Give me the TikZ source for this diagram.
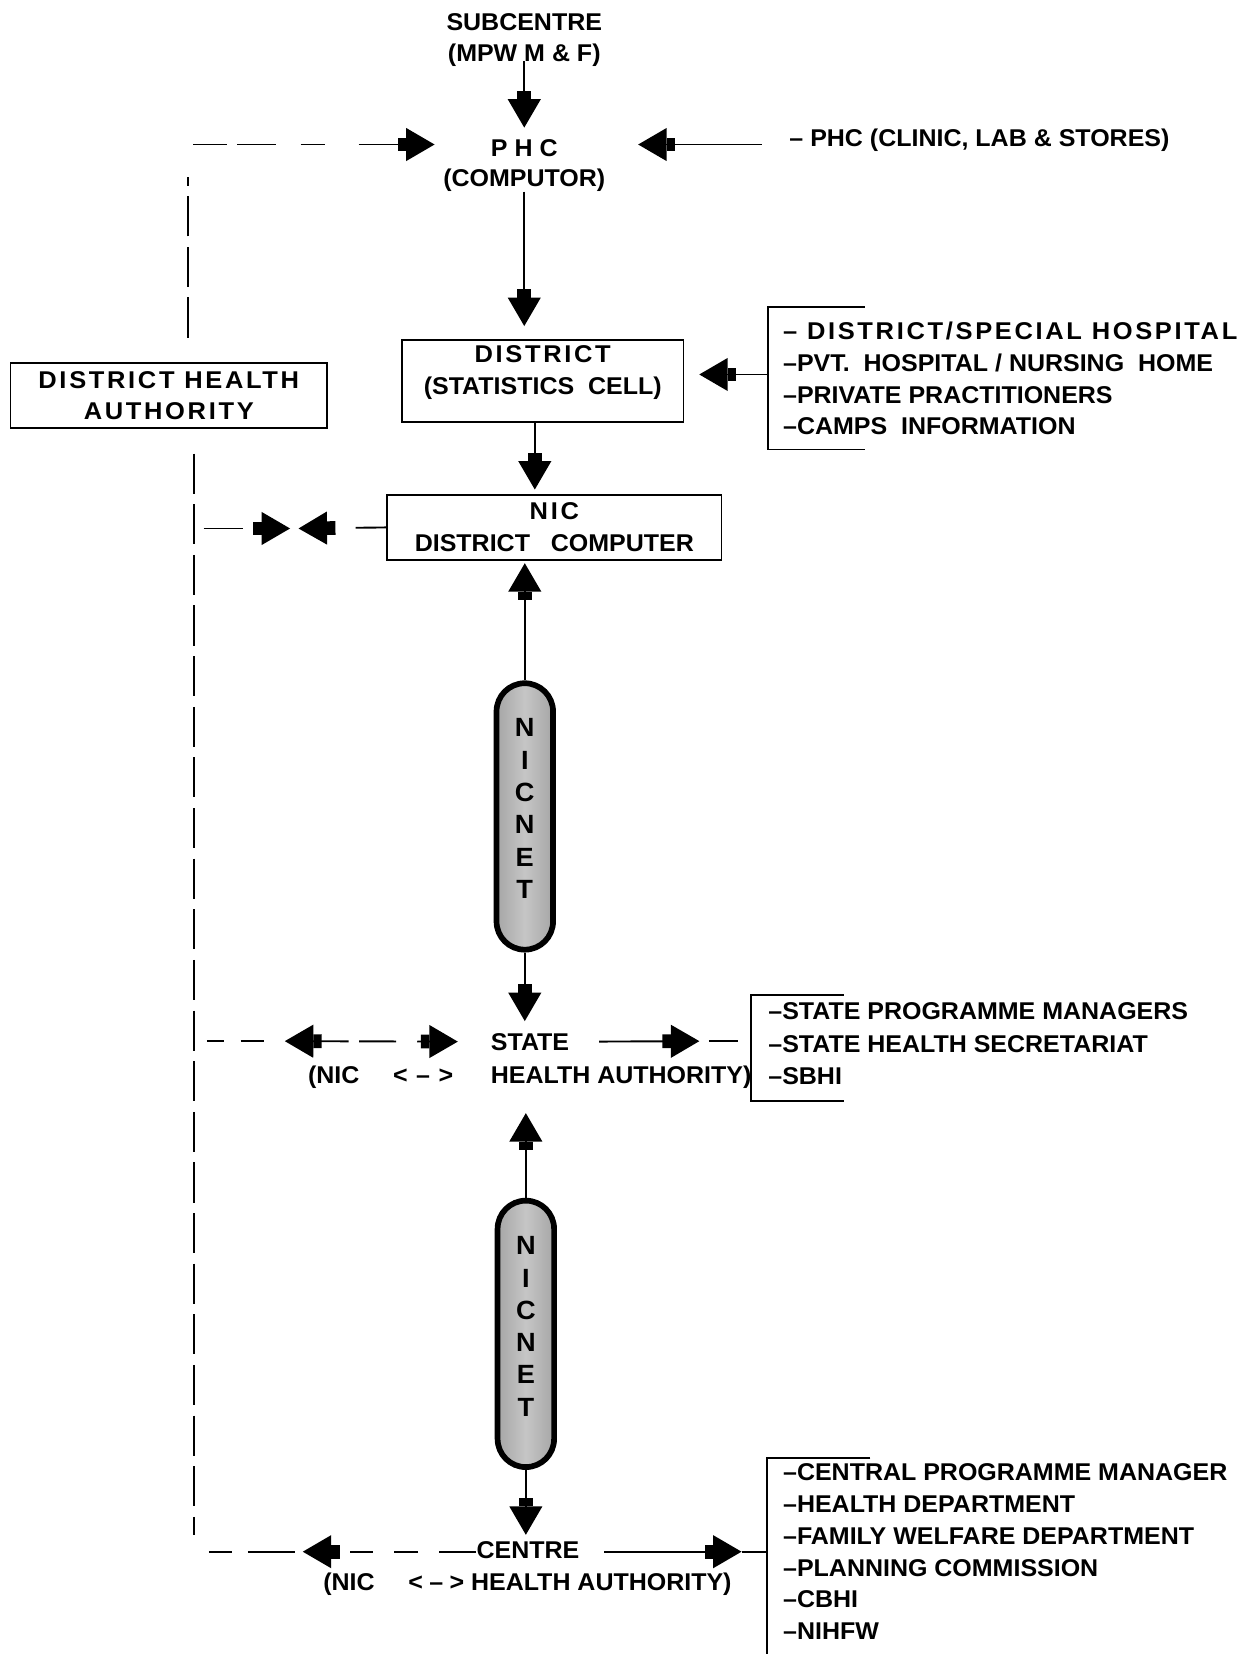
\documentclass[tikz,border=0pt]{standalone}
\usepackage{fontspec}
\setmainfont{Liberation Sans}[FakeStretch=1.03]
\newfontfamily\widefont{Liberation Sans}[LetterSpace=11,FakeStretch=1.05]
\usetikzlibrary{arrows.meta,positioning}

\newcommand\dfont{\fontsize{11.5}{15}\selectfont\bfseries}

\tikzset{
  Big/.tip={Rectangle[length=4pt,width=6.5pt,sep=0pt]Triangle[length=13.5pt,width=15.5pt,sep=0pt]},
  every node/.style={font=\dfont, inner sep=0pt},
  box/.style={draw, line width=0.9pt, align=center},
  flow/.style={line width=0.9pt, -{Big}},
  thin/.style={line width=0.9pt},
  dhaline/.style={line width=0.8pt, dash pattern=on 19pt off 5pt},
  bracket/.style={line width=0.8pt},
  pill/.style={draw, line width=2.7pt, rounded corners=13.4pt,
    minimum width=26.8pt, minimum height=126.3pt,
    left color=gray!70, right color=gray!70, middle color=gray!45},
  pilltxt/.style={align=center, font=\fontsize{12.5}{15.3}\selectfont\bfseries},
  list/.style={align=left, anchor=north west},
}

\begin{document}
\begin{tikzpicture}[x=0.5pt,y=-0.5pt]
  \useasboundingbox (0,0) rectangle (1186,1568);

  % upper part
  \node[anchor=north, align=center] (sub) at (497,12) {SUBCENTRE\\(MPW M \& F)};
  \node[anchor=north, align=center, font=\fontsize{11.5}{14}\selectfont\bfseries] (phc) at (497,132) {P H C\\(COMPUTOR)};
  \node[anchor=west] (phcsrc) at (748,133) {-- PHC (CLINIC, LAB \& STORES)};

  \node[box, minimum width=133.5pt, minimum height=39pt] (dist) at (514.5,361) {};
  \node[align=center, below=3pt of dist.north] (distlbl) {{\widefont DISTRICT}\\(STATISTICS\ \ CELL)};
  \node[box, minimum width=150pt, minimum height=31pt, font=\widefont\dfont] (dha) at (160,375) {DISTRICT HEALTH\\AUTHORITY};
  \node[list, font=\fontsize{11.5}{15}\selectfont\bfseries] (distlist) at (742,305)
    {{\widefont \textendash\ DISTRICT/SPECIAL HOSPITAL}\\--PVT.\ \ HOSPITAL / NURSING\ \ HOME\\--PRIVATE PRACTITIONERS\\--CAMPS\ \ INFORMATION};

  \node[box, minimum width=158.5pt, minimum height=31pt] (nic) at (525.5,500) {{\widefont NIC}\\DISTRICT\ \ \ COMPUTER};

  % nicnet links
  \node[pill] (net1) at (497.5,774) {};
  \node[pilltxt] (net1lbl) at ([yshift=3.75pt]net1.center) {N\\I\\C\\N\\E\\T};
  \node[pill] (net2) at (498.5,1264.5) {};
  \node[pilltxt] (net2lbl) at ([yshift=3.5pt]net2.center) {N\\I\\C\\N\\E\\T};

  % state level
  \node[anchor=north west] (stateA) at (465,979) {STATE};
  \node[anchor=north west] (stateB) at (465,1010) {HEALTH AUTHORITY)};
  \node[anchor=north east] (stateC) at (430,1010) {(NIC\hspace{16pt}<\hspace{4pt}--\hspace{4pt}>};
  \node[list, font=\fontsize{11.5}{15.5}\selectfont\bfseries] (statelist) at (728,950)
    {--STATE PROGRAMME MANAGERS\\--STATE HEALTH SECRETARIAT\\--SBHI};

  % centre level
  \node[anchor=north] (centre) at (500.5,1461) {CENTRE};
  \node[anchor=north] (centrenic) at (500,1491) {(NIC\hspace{16pt}<\hspace{3pt}--\hspace{3pt}>\ HEALTH AUTHORITY)};
  \node[list, font=\fontsize{11.5}{15.1}\selectfont\bfseries] (centrelist) at (742,1387)
    {--CENTRAL PROGRAMME MANAGER\\--HEALTH DEPARTMENT\\--FAMILY WELFARE DEPARTMENT\\--PLANNING COMMISSION\\--CBHI\\--NIHFW};

  % brackets
  \draw[bracket] (820,291) -- (728,291) -- (728,426) -- (820,426);
  \draw[bracket] (800,943) -- (712,943) -- (712,1044) -- (800,1044);
  \draw[bracket] (825,1382) -- (727,1382) -- (727,1568);

  \coordinate (dlbr) at (728,355);
  \coordinate (slbr) at (712,987);
  \coordinate (clbr) at (727,1471);
  \coordinate (phcin) at (605,137);
  \coordinate (phcleft) at (412,137);
  \coordinate (dhahor) at (183,137);
  \coordinate (dhatop) at (178,168);
  \coordinate (dhaup) at (178,320);
  \coordinate (dhadown) at (184,430);
  \coordinate (dhabot) at (184,1455);
  \coordinate (nicl) at (193,501);
  \coordinate (nicltip) at (275,501);
  \coordinate (nicrtip) at (283,501);
  \coordinate (stl) at (196,987);
  \coordinate (stltip) at (270,987);
  \coordinate (sttip) at (663,987);
  \coordinate (cll) at (198,1471);
  \coordinate (cltip) at (287,1471);
  \coordinate (crtip) at (703,1471);

  % main flow
  \draw[flow, shorten <=-3pt, shorten >=5.5pt] (sub.south) -- (phc.north);
  \draw[flow, shorten <=13pt] (phcsrc.west |- phcin) -- (phcin);
  \draw[flow, shorten >=6pt] (phc.south) -- (phc.south |- dist.north);
  \draw[flow, shorten >=7pt] (dlbr) -- (dlbr -| dist.east);
  \draw[flow, shorten >=2pt] ([xshift=-3.75pt]dist.south) -- ([xshift=-3.75pt]dist.south |- nic.north);
  \draw[flow, shorten >=1pt] (net1.north) -- (net1.north |- nic.south);
  \draw[flow, shorten >=5.5pt] (net1.south) -- (net1.south |- stateA.north);
  \draw[flow, shorten >=11.5pt] (net2.north) -- (net2.north |- stateB.south);
  \draw[flow, shorten >=3pt] (net2.south) -- (net2.south |- centre.north);

  % district health authority links
  \draw[dhaline] (dhaup) -- (dhatop);
  \draw[flow, dash pattern=on 16pt off 5pt on 18.5pt off 11.5pt on 11.5pt off 16pt on 40pt off 1pt] (dhahor) -- (phcleft);
  \draw[dhaline] (dhadown) -- (dhabot);
  \draw[flow, dash pattern=on 18.5pt off 10pt] (nicl) -- (nicltip);
  \draw[flow, dash pattern=on 14.5pt off 10pt] (nic.west) -- (nicrtip);

  % state row
  \draw[thin, dash pattern=on 8pt off 8pt on 11pt off 20pt] (stl) -- (stltip);
  \draw[thin, {Big}-{Big}, dash pattern=on 17pt off 5pt on 17.5pt off 10pt, shorten >=15.5pt] (stltip) -- (stateA.west);
  \draw[flow, shorten <=14pt] (stateA.east) -- (sttip);
  \draw[thin, shorten <=4.5pt, shorten >=6pt] (sttip) -- (slbr);

  % centre row
  \draw[thin, dash pattern=on 11pt off 7.5pt on 22.5pt off 10pt] (cll) -- (cltip);
  \draw[flow, dash pattern=on 17.5pt off 10pt on 11.5pt off 10pt on 11pt off 10pt] (centre.west |- cltip) -- (cltip);
  \draw[flow, shorten <=11.5pt] (centre.east |- crtip) -- (crtip);
  \draw[thin] (crtip) -- (clbr);
\end{tikzpicture}
\end{document}
